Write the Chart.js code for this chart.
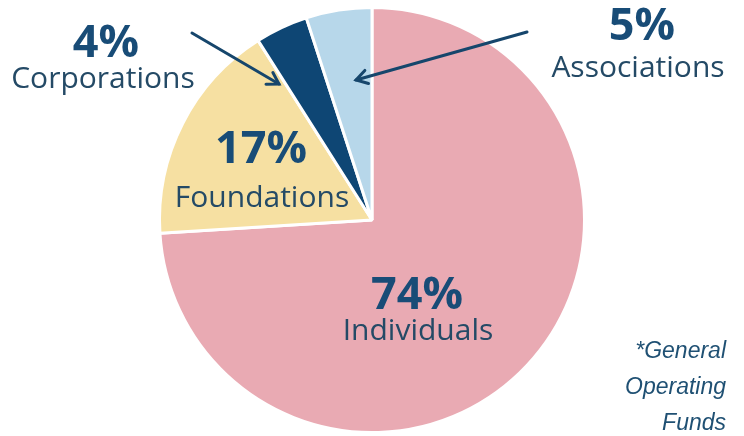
<!DOCTYPE html>
<html>
<head>
<meta charset="utf-8">
<script src="https://cdn.jsdelivr.net/npm/chart.js@4"></script>
<style>
  html, body { margin: 0; padding: 0; background: #fff; }
  #wrap { width: 744px; height: 436px; position: relative; }
</style>
</head>
<body>
<div id="wrap"><canvas id="fundChart"></canvas></div>
<script>
// data
const categories = ['Individuals', 'Foundations', 'Corporations', 'Associations'];
const shares = [74, 17, 4, 5];
const sliceColors = ['#E9AAB3', '#F6E0A2', '#0E4674', '#B7D7EA'];
const footnote = ['*General', 'Operating', 'Funds'];

// label placement (annotation positions, px)
const labelSpots = {
  Individuals: { x: 417, y: 296, lx: 418, ly: 340 },
  Foundations: { x: 261, y: 150, lx: 262, ly: 207 },
  Corporations: { x: 106, y: 44, lx: 103, ly: 88 },
  Associations: { x: 642, y: 27, lx: 638, ly: 77 }
};
const arrows = [
  { from: [192, 33], to: [279, 84] },
  { from: [527, 32], to: [356, 80] }
];

function drawArrow(ctx, a) {
  const [x1, y1] = a.from, [x2, y2] = a.to;
  const ang = Math.atan2(y2 - y1, x2 - x1);
  ctx.beginPath();
  ctx.moveTo(x1, y1);
  ctx.lineTo(x2, y2);
  ctx.stroke();
  const h = 13;
  ctx.beginPath();
  ctx.moveTo(x2 - h * Math.cos(ang - 0.55), y2 - h * Math.sin(ang - 0.55));
  ctx.lineTo(x2, y2);
  ctx.lineTo(x2 - h * Math.cos(ang + 0.55), y2 - h * Math.sin(ang + 0.55));
  ctx.stroke();
}

const labelPlugin = {
  id: 'sliceLabels',
  afterDatasetsDraw(chart) {
    const ctx = chart.ctx;
    ctx.save();
    ctx.textAlign = 'center';
    categories.forEach((name, i) => {
      const s = labelSpots[name];
      ctx.fillStyle = '#184C77';
      ctx.font = 'bold 45px "Open Sans"';
      ctx.textBaseline = 'middle';
      ctx.fillText(shares[i] + '%', s.x, s.y);
      ctx.fillStyle = '#244A66';
      ctx.font = '30px "Open Sans"';
      ctx.textBaseline = 'alphabetic';
      ctx.fillText(name, s.lx, s.ly);
    });

    ctx.strokeStyle = '#16466C';
    ctx.lineWidth = 3;
    ctx.lineCap = 'round';
    arrows.forEach(a => drawArrow(ctx, a));

    ctx.fillStyle = '#1F5073';
    ctx.font = 'italic 23px "Liberation Sans"';
    ctx.textAlign = 'right';
    footnote.forEach((line, i) => {
      ctx.fillText(line, 726, 358 + i * 36);
    });
    ctx.restore();
  }
};

const ctx = document.getElementById('fundChart').getContext('2d');
const fundChart = new Chart(ctx, {
  type: 'pie',
  data: {
    labels: categories,
    datasets: [{
      data: shares,
      backgroundColor: sliceColors,
      borderColor: '#ffffff',
      borderWidth: 3
    }]
  },
  options: {
    responsive: true,
    maintainAspectRatio: false,
    animation: false,
    layout: { padding: { top: 6, bottom: 2, left: 0, right: 0 } },
    plugins: {
      legend: { display: false },
      tooltip: { enabled: false }
    }
  },
  plugins: [labelPlugin]
});
</script>
</body>
</html>
